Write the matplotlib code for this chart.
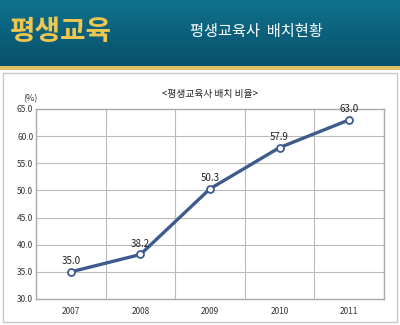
import numpy as np
import matplotlib.pyplot as plt
from matplotlib.patches import Rectangle
from matplotlib.colors import LinearSegmentedColormap

plt.rcParams['font.family'] = ['Noto Sans CJK KR', 'DejaVu Sans']

# data
years = ["2007", "2008", "2009", "2010", "2011"]
ratio = [35.0, 38.2, 50.3, 57.9, 63.0]
yticks = [30, 35, 40, 45, 50, 55, 60, 65]

fig = plt.figure(figsize=(4, 3.25), dpi=100)
fig.patch.set_facecolor("white")

# header band with gradient
hdr = fig.add_axes([0, 1 - 66 / 325, 1, 66 / 325])
grad = np.linspace(0, 1, 100).reshape(-1, 1)
cmap = LinearSegmentedColormap.from_list("hdr", ["#11728e", "#06506a"])
hdr.imshow(grad, aspect="auto", cmap=cmap, extent=[0, 1, 0, 1], origin="upper")
hdr.set_xlim(0, 1)
hdr.set_ylim(0, 1)
hdr.axis("off")
hdr.text(0.025, 0.52, "평생교육", color="#eec650", fontsize=20, fontweight="bold",
         va="center", ha="left")
hdr.text(0.64, 0.52, "평생교육사  배치현황", color="white", fontsize=11,
         va="center", ha="center")

# gold stripe and white panel border
fig.patches.append(Rectangle((0, 1 - 70 / 325), 1, 4 / 325, transform=fig.transFigure,
                             facecolor="#dfc065", edgecolor="none"))
fig.patches.append(Rectangle((3 / 400, 3 / 325), 394 / 400, 1 - 73 / 325 - 3 / 325,
                             transform=fig.transFigure, facecolor="none",
                             edgecolor="#c8c8c8", linewidth=1))

ax = fig.add_axes([36 / 400, 1 - 299 / 325, 348 / 400, 190 / 325])
x = np.arange(len(years))
ax.plot(x, ratio, color="#3d5b8c", linewidth=2.4, marker="o", markersize=5,
        markerfacecolor="white", markeredgecolor="#3d5b8c", markeredgewidth=1.3, zorder=3)
for xi, v in zip(x, ratio):
    ax.text(xi, v + 1.0, f"{v:.1f}", ha="center", va="bottom", fontsize=7, color="#222222")

ax.set_xlim(-0.5, len(years) - 0.5)
ax.set_ylim(30, 65)
ax.set_yticks(yticks)
ax.set_yticklabels([f"{t:.1f}" for t in yticks])
ax.set_xticks(x)
ax.set_xticklabels(years)
ax.set_xticks(np.arange(-0.5, len(years)), minor=True)
ax.grid(True, which="minor", axis="x", color="#bbbbbb", linewidth=0.8)
ax.grid(True, which="major", axis="y", color="#bbbbbb", linewidth=0.8)
ax.tick_params(axis="both", which="both", length=0, labelsize=6, colors="#333333")
ax.tick_params(axis="x", pad=6)
ax.tick_params(axis="y", pad=2)
for s in ax.spines.values():
    s.set_color("#aaaaaa")
    s.set_linewidth(1.0)

fig.text(30 / 400, 1 - 99 / 325, "(%)", fontsize=6.5, ha="center", va="center", color="#333333")
fig.text(210 / 400, 1 - 94 / 325, "<평생교육사 배치 비율>", fontsize=7, ha="center",
         va="center", color="#222222")

fig.savefig("out.png", dpi=100)
